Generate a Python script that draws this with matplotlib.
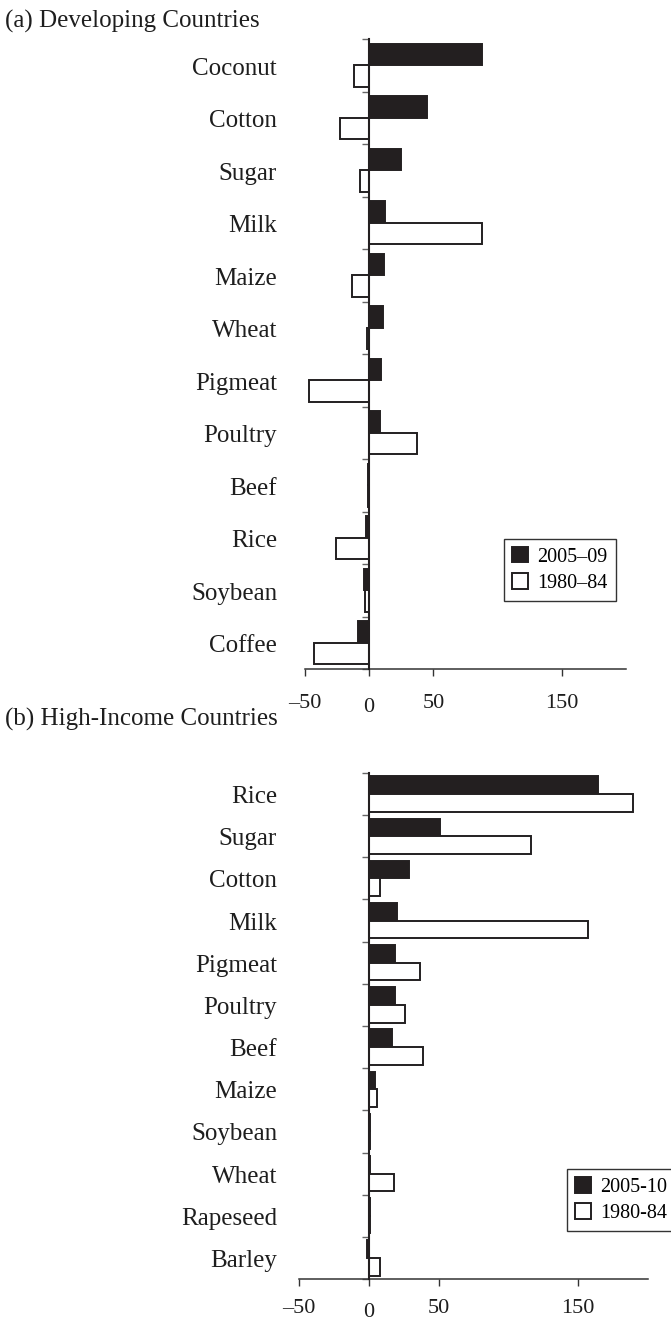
import matplotlib
matplotlib.use("Agg")
import matplotlib.pyplot as plt
import matplotlib.transforms as mtransforms
import numpy as np

plt.rcParams['font.family'] = ['Liberation Serif', 'DejaVu Serif']

# (a) developing countries
dev_crops = ["Coconut", "Cotton", "Sugar", "Milk", "Maize", "Wheat",
             "Pigmeat", "Poultry", "Beef", "Rice", "Soybean", "Coffee"]
dev_recent = [88, 45, 25, 12.5, 11.5, 11, 9, 8.5, -1, -2.5, -4, -8.5]
dev_early = [-12, -22.5, -7, 87.5, -13, -2, -47, 37, -1, -26, -3, -43]

# (b) high-income countries
high_crops = ["Rice", "Sugar", "Cotton", "Milk", "Pigmeat", "Poultry",
              "Beef", "Maize", "Soybean", "Wheat", "Rapeseed", "Barley"]
high_recent = [164, 51, 28.5, 20, 18.5, 18.5, 16.5, 4.5, 1, 0.8, 1, -1]
high_early = [189, 116, 8, 157, 36.5, 26, 38.5, 6, 1, 18, 1, 8]

xticks = [-50, 0, 50, 150]
xticklabels = ["\u201350", "0", "50", "150"]

INK = '#231f20'

fig = plt.figure(figsize=(6.71, 13.22), dpi=100)
ax_a = fig.add_axes([0.4545, 0.4939, 0.4784, 0.4766])
ax_b = fig.add_axes([0.4456, 0.0325, 0.5201, 0.3828])


def draw_panel(ax, crops, recent, early, h, labels, legend_at, pad):
    y = np.arange(len(crops))
    ax.barh(y - h / 2, recent, height=h, color=INK, edgecolor=INK,
            linewidth=1.4, label=labels[0], zorder=2)
    ax.barh(y + h / 2, early, height=h, color='white', edgecolor=INK,
            linewidth=1.4, label=labels[1], zorder=2)
    ax.set_xlim(-50, 200)
    ax.set_ylim(len(crops) - 0.5, -0.5)

    for s in ['top', 'right']:
        ax.spines[s].set_visible(False)
    ax.spines['left'].set_position(('data', 0))
    ax.spines['left'].set_linewidth(1.5)
    ax.spines['left'].set_color(INK)
    ax.spines['left'].set_zorder(3)
    ax.spines['bottom'].set_linewidth(1.1)
    ax.spines['bottom'].set_color('#333333')

    # tick marks between the groups, names written separately
    ax.set_yticks(np.arange(-0.5, len(crops)), labels=[])
    ax.tick_params(axis='y', length=5, width=1, color='#666666')
    blend = mtransforms.blended_transform_factory(fig.transFigure, ax.transData)
    for i, name in enumerate(crops):
        ax.text(0.413, i + 0.07, name, transform=blend, ha='right',
                va='center', fontsize=18, color='#1e1e1e')

    ax.set_xticks(xticks, labels=xticklabels)
    ax.tick_params(axis='x', length=5, width=1, color='#333333',
                   labelsize=16, pad=pad, labelcolor='#1e1e1e')
    ax.xaxis.get_major_ticks()[1].set_pad(pad + 3)

    ax.legend(loc='upper left', bbox_to_anchor=legend_at,
              bbox_transform=fig.transFigure, borderaxespad=0,
              fontsize=14.5, handlelength=0.8, handleheight=0.8,
              handletextpad=0.45, labelspacing=0.33, borderpad=0.4,
              fancybox=False, edgecolor='#333333', framealpha=1)
    ax.get_legend().get_frame().set_linewidth(1.0)


draw_panel(ax_a, dev_crops, dev_recent, dev_early, 0.41,
           ["2005\u201309", "1980\u201384"], (0.751, 0.5923), 13)
draw_panel(ax_b, high_crops, high_recent, high_early, 0.42,
           ["2005-10", "1980-84"], (0.845, 0.1157), 9.5)

fig.text(0.007, 1 - 21 / 1322, "(a) Developing Countries", fontsize=18,
         ha='left', va='center', color='#1e1e1e')
fig.text(0.007, 1 - 719 / 1322, "(b) High-Income Countries", fontsize=18,
         ha='left', va='center', color='#1e1e1e')

fig.savefig("out.png", dpi=100)
